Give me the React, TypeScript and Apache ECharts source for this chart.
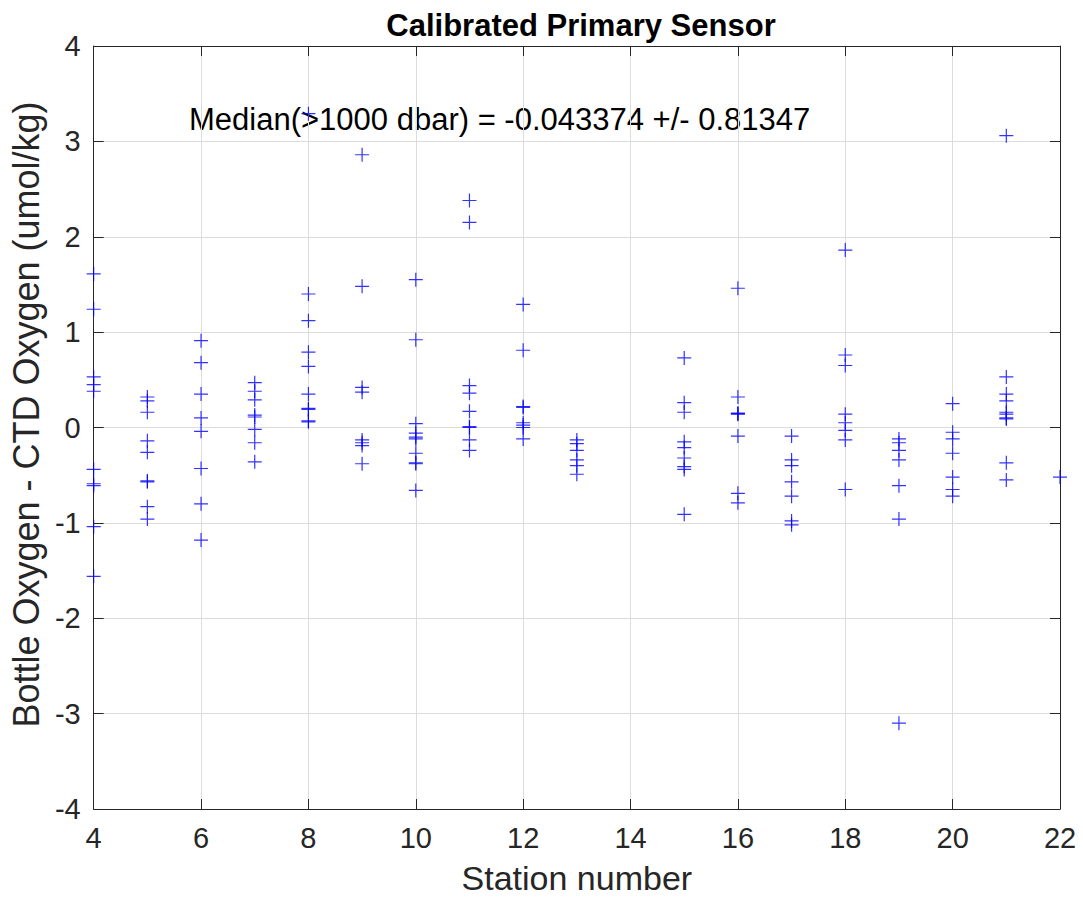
import React, { useEffect, useRef } from "react";
import * as echarts from "echarts";

const stations = [4, 5, 6, 7, 8, 9, 10, 11, 12, 13, 15, 16, 17, 18, 19, 20, 21, 22];
const diffs: number[][] = [
  [1.61, 1.24, 0.53, 0.45, 0.38, -0.44, -0.59, -0.61, -1.04, -1.56],
  [0.32, 0.28, 0.16, -0.14, -0.26, -0.56, -0.57, -0.83, -0.96],
  [0.91, 0.68, 0.35, 0.1, -0.04, -0.43, -0.8, -1.18],
  [0.47, 0.38, 0.29, 0.13, 0.11, -0.02, -0.16, -0.36],
  [3.29, 1.4, 1.12, 0.79, 0.64, 0.35, 0.2, 0.19, 0.07, 0.06],
  [2.86, 1.48, 0.42, 0.37, -0.13, -0.16, -0.19, -0.38],
  [1.55, 0.92, 0.04, -0.06, -0.1, -0.12, -0.27, -0.37, -0.38, -0.66],
  [2.38, 2.15, 0.44, 0.36, 0.17, 0.01, 0.0, -0.13, -0.24],
  [1.29, 0.81, 0.22, 0.21, 0.05, 0.025, 0.0, -0.12],
  [-0.13, -0.17, -0.24, -0.34, -0.4, -0.49],
  [0.73, 0.26, 0.16, -0.15, -0.21, -0.32, -0.41, -0.44, -0.91],
  [1.46, 0.32, 0.15, 0.145, 0.14, -0.09, -0.69, -0.79],
  [-0.09, -0.34, -0.4, -0.57, -0.72, -0.98, -1.02],
  [1.86, 0.76, 0.65, 0.14, 0.05, -0.03, -0.13, -0.65],
  [-0.12, -0.16, -0.24, -0.34, -0.61, -0.96, -3.1],
  [0.25, -0.05, -0.12, -0.27, -0.52, -0.65, -0.72],
  [3.06, 0.53, 0.35, 0.28, 0.16, 0.14, 0.1, 0.09, -0.37, -0.55],
  [-0.52],
];
const titleText = "Calibrated Primary Sensor";
const annotation = "Median(>1000 dbar) = -0.043374 +/- 0.81347";
const xName = "Station number";
const yName = "Bottle Oxygen - CTD Oxygen (umol/kg)";

const FONT = "Liberation Sans, Arial, Helvetica, sans-serif";
const AX = "#262626";

export default function App() {
  const ref = useRef<HTMLDivElement>(null);
  useEffect(() => {
    document.body.style.margin = "0";
    const chart = echarts.init(ref.current!, null, { renderer: "svg" });
    const points: [number, number][] = [];
    stations.forEach((s, i) => diffs[i].forEach((v) => points.push([s, v])));
    const axisCommon = {
      axisLine: { show: true, onZero: false, lineStyle: { color: AX, width: 1 } },
      axisTick: { show: true, inside: true, length: 10, lineStyle: { color: AX } },
    };
    chart.setOption({
      animation: false,
      backgroundColor: "#ffffff",
      title: {
        text: titleText,
        left: 576,
        top: 5,
        textAlign: "center",
        textStyle: { fontFamily: FONT, fontSize: 31, fontWeight: "bold", color: "#000" },
      },
      grid: { left: 93, right: 23, top: 46, bottom: 91, containLabel: false },
      xAxis: [
        {
          type: "value",
          min: 4,
          max: 22,
          interval: 2,
          position: "bottom",
          name: xName,
          nameLocation: "middle",
          nameGap: 52,
          nameTextStyle: { fontFamily: FONT, fontSize: 34, color: AX },
          ...axisCommon,
          axisLabel: { fontFamily: FONT, fontSize: 29, color: AX, margin: 14 },
          splitLine: { show: true, lineStyle: { color: "#dcdcdc", width: 1 } },
        },
        {
          type: "value",
          min: 4,
          max: 22,
          interval: 2,
          position: "top",
          ...axisCommon,
          axisLabel: { show: false },
          splitLine: { show: false },
        },
      ],
      yAxis: [
        {
          type: "value",
          min: -4,
          max: 4,
          interval: 1,
          position: "left",
          name: yName,
          nameLocation: "middle",
          nameGap: 47,
          nameTextStyle: { fontFamily: FONT, fontSize: 36, color: AX, padding: [0, 0, 0, 26] },
          ...axisCommon,
          axisLabel: { fontFamily: FONT, fontSize: 29, color: AX, margin: 13 },
          splitLine: { show: true, lineStyle: { color: "#dcdcdc", width: 1 } },
        },
        {
          type: "value",
          min: -4,
          max: 4,
          interval: 1,
          position: "right",
          ...axisCommon,
          axisLabel: { show: false },
          splitLine: { show: false },
        },
      ],
      graphic: [
        {
          type: "text",
          left: 189,
          top: 104,
          style: {
            text: annotation,
            fontFamily: FONT,
            fontSize: 31,
            fill: "#000",
          },
        },
      ],
      series: [
        {
          type: "scatter",
          xAxisIndex: 0,
          yAxisIndex: 0,
          data: points,
          symbol: "path://M7,0L7,14M0,7L14,7",
          symbolSize: 14,
          itemStyle: { color: "none", borderColor: "#0000ff", borderWidth: 1.2 },
          emphasis: { disabled: true },
        },
      ],
    });
    return () => chart.dispose();
  }, []);
  return <div ref={ref} style={{ position: "absolute", left: 0, top: 0, width: 1083, height: 900 }} />;
}
